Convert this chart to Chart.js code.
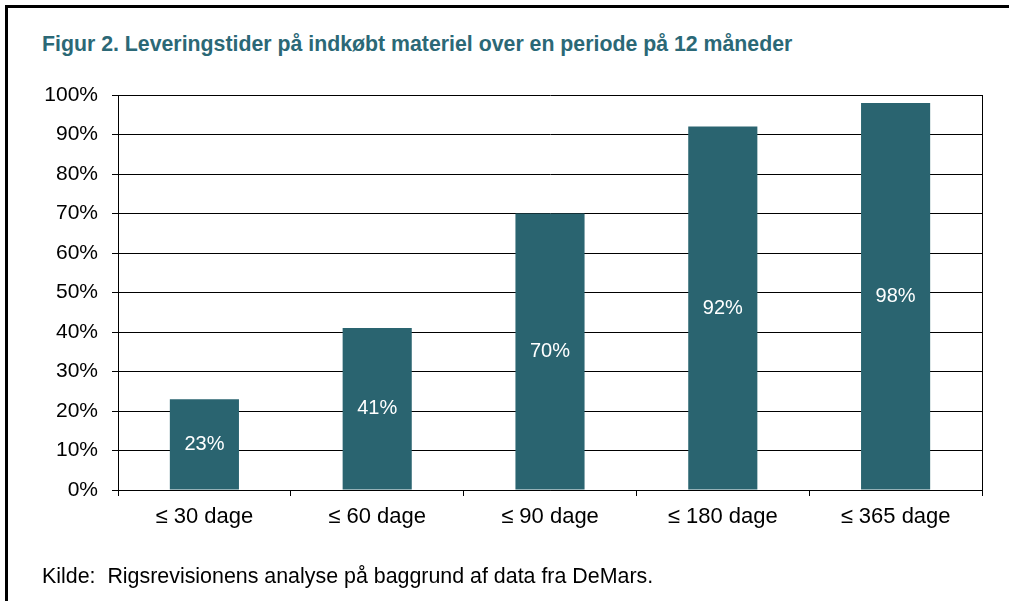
<!DOCTYPE html>
<html>
<head>
<meta charset="utf-8">
<script src="https://cdn.jsdelivr.net/npm/chart.js@4"></script>
<style>
  html, body { margin: 0; padding: 0; background: #fff; }
  #wrap { position: relative; width: 1009px; height: 601px; overflow: hidden; }
  #frame { position: absolute; left: 5px; top: 5px; width: 1020px; height: 620px; border-left: 3px solid #000; border-top: 3px solid #000; }
  #title { position: absolute; left: 42px; top: 32px; font-family: "Liberation Sans", Arial, sans-serif; font-weight: bold; font-size: 21.3px; color: #2b6876; white-space: nowrap; }
  #source { position: absolute; left: 42px; top: 564px; font-family: "Liberation Sans", Arial, sans-serif; font-size: 21.4px; color: #000; white-space: nowrap; }
  #c { position: absolute; left: 0; top: 0; }
</style>
</head>
<body>
<div id="wrap">
  <div id="frame"></div>
  <div id="title">Figur 2. Leveringstider på indkøbt materiel over en periode på 12 måneder</div>
  <canvas id="c" width="1009" height="601"></canvas>
  <div id="source">Kilde:&nbsp; Rigsrevisionens analyse på baggrund af data fra DeMars.</div>
</div>
<script>
const categories = ["≤ 30 dage", "≤ 60 dage", "≤ 90 dage", "≤ 180 dage", "≤ 365 dage"];
const values = [23, 41, 70, 92, 98];
const yTicks = [0, 10, 20, 30, 40, 50, 60, 70, 80, 90, 100];

const barLabels = {
  id: 'barLabels',
  afterDatasetsDraw(chart) {
    const ctx = chart.ctx;
    const meta = chart.getDatasetMeta(0);
    ctx.save();
    ctx.fillStyle = '#ffffff';
    ctx.font = '20px "Liberation Sans", Arial, sans-serif';
    ctx.textAlign = 'center';
    ctx.textBaseline = 'middle';
    meta.data.forEach((bar, i) => {
      const mid = (bar.y + bar.base) / 2;
      ctx.fillText(values[i] + '%', bar.x, mid);
    });
    ctx.restore();
  }
};

const rightBorder = {
  id: 'rightBorder',
  afterDraw(chart) {
    const { ctx, chartArea } = chart;
    ctx.save();
    ctx.strokeStyle = '#000';
    ctx.lineWidth = 1;
    ctx.beginPath();
    ctx.moveTo(Math.round(chartArea.right) + 0.5, chartArea.top);
    ctx.lineTo(Math.round(chartArea.right) + 0.5, chartArea.bottom + 6);
    ctx.stroke();
    ctx.restore();
  }
};

new Chart(document.getElementById('c'), {
  type: 'bar',
  data: {
    labels: categories,
    datasets: [{
      data: values,
      backgroundColor: '#2a6470',
      borderWidth: 0,
      categoryPercentage: 0.4,
      barPercentage: 1.0
    }]
  },
  options: {
    responsive: false,
    animation: false,
    devicePixelRatio: 1,
    layout: { padding: { left: 0, top: 95, right: 27, bottom: 0 } },
    plugins: { legend: { display: false }, tooltip: { enabled: false } },
    scales: {
      x: {
        offset: true,
        grid: {
          offset: true,
          drawOnChartArea: false,
          tickColor: '#000',
          tickLength: 6,
          lineWidth: 1
        },
        border: { display: true, color: '#000', width: 1 },
        ticks: {
          color: '#000',
          font: { family: '"Liberation Sans", Arial, sans-serif', size: 22 },
          padding: 8,
          maxRotation: 0
        },
        afterFit(scale) { scale.height = 111; }
      },
      y: {
        min: 0,
        max: 100,
        afterBuildTicks(scale) { scale.ticks = yTicks.map(v => ({ value: v })); },
        grid: {
          color: '#000',
          tickColor: '#000',
          tickLength: 6,
          lineWidth: 1
        },
        border: { display: true, color: '#000', width: 1 },
        ticks: {
          color: '#000',
          font: { family: '"Liberation Sans", Arial, sans-serif', size: 21 },
          padding: 14,
          callback: (v) => v + '%'
        },
        afterFit(scale) { scale.width = 118; }
      }
    }
  },
  plugins: [barLabels, rightBorder]
});
</script>
</body>
</html>
